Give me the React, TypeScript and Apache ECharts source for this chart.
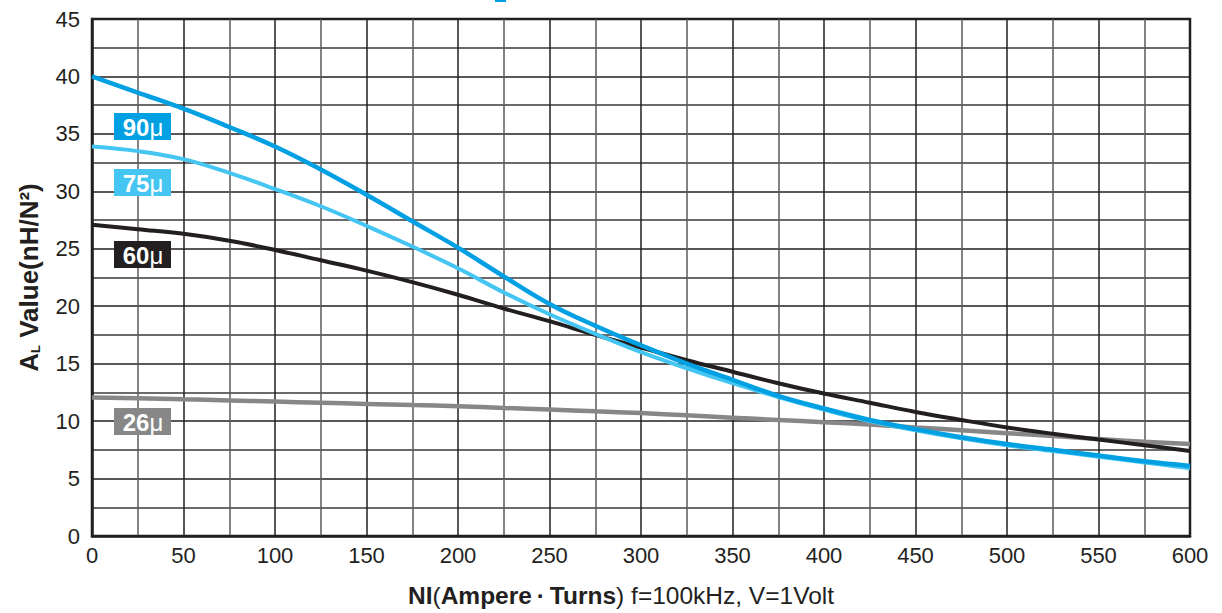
import React, { useEffect, useRef } from "react";
import * as echarts from "echarts";

const niValues = [0, 25, 50, 75, 100, 125, 150, 175, 200, 225, 250, 275, 300, 325, 350, 375, 400, 425, 450, 475, 500, 525, 550, 575, 600];
const al90 = [40, 38.6, 37.2, 35.6, 33.9, 31.9, 29.7, 27.4, 25.1, 22.6, 20.2, 18.3, 16.6, 15.0, 13.6, 12.2, 11.1, 10.1, 9.3, 8.6, 8.0, 7.5, 7.0, 6.5, 6.1];
const al75 = [33.9, 33.5, 32.8, 31.6, 30.2, 28.7, 27.0, 25.2, 23.3, 21.2, 19.3, 17.6, 16.0, 14.6, 13.3, 12.1, 11.0, 10.0, 9.2, 8.5, 7.9, 7.4, 6.9, 6.4, 5.9];
const al60 = [27.1, 26.7, 26.3, 25.7, 24.9, 24.0, 23.1, 22.1, 21.0, 19.8, 18.7, 17.5, 16.4, 15.3, 14.3, 13.3, 12.4, 11.6, 10.8, 10.1, 9.45, 8.9, 8.4, 7.9, 7.4];
const al26 = [12.05, 12.0, 11.9, 11.8, 11.7, 11.6, 11.5, 11.4, 11.3, 11.15, 11.0, 10.85, 10.7, 10.5, 10.3, 10.1, 9.9, 9.7, 9.45, 9.2, 8.95, 8.7, 8.45, 8.2, 8.0];
const seriesNames = ["26μ", "60μ", "75μ", "90μ"];

const FONT = "'Liberation Sans', Arial, Helvetica, sans-serif";

export default function App() {
  const ref = useRef<HTMLDivElement>(null);
  useEffect(() => {
    if (!ref.current) return;
    const chart = echarts.init(ref.current, undefined, { renderer: "svg" });
    const pair = (ys: number[]) => niValues.map((x, i) => [x, ys[i]]);
    const lineSeries = (name: string, ys: number[], color: string, width: number) => ({
      name,
      type: "line",
      data: pair(ys),
      smooth: 0.4,
      showSymbol: false,
      lineStyle: { color, width },
      z: 3,
    });
    const label = (top: number, bg: string, digits: string) => ({
      type: "group",
      left: 114,
      top,
      z: 100,
      children: [
        { type: "rect", z: 100, shape: { x: 0, y: 0, width: 57, height: 27 }, style: { fill: bg } },
        {
          type: "text",
          z: 101,
          x: 29,
          y: 14,
          style: {
            text: `{d|${digits}}{m|μ}`,
            align: "center",
            verticalAlign: "middle",
            rich: {
              d: { fontSize: 24, fontWeight: "bold", fill: "#fff", fontFamily: FONT },
              m: { fontSize: 24, fill: "#fff", fontFamily: FONT },
            },
          },
        },
      ],
    });
    chart.setOption({
      animation: false,
      backgroundColor: "#fff",
      grid: {
        left: 92,
        right: 32,
        top: 19,
        bottom: 76,
        show: true,
        borderColor: "#231f20",
        borderWidth: 2.5,
        containLabel: false,
      },
      xAxis: {
        type: "value",
        min: 0,
        max: 600,
        interval: 50,
        name: "{b|NI}{n|(}{b|Ampere\u2009·\u2009Turns}{n|) f=100kHz, V=1Volt}",
        nameLocation: "middle",
        nameGap: 47,
        nameTextStyle: {
          padding: [0, 40, 0, 0],
          rich: {
            b: { fontSize: 24.5, fontWeight: "bold", color: "#231f20", fontFamily: FONT },
            n: { fontSize: 24.5, color: "#231f20", fontFamily: FONT },
          },
        },
        axisLine: { show: true, lineStyle: { color: "#231f20", width: 2.5 } },
        axisTick: { show: false },
        axisLabel: { fontSize: 22, color: "#231f20", fontFamily: FONT, margin: 8 },
        splitLine: { show: true, lineStyle: { color: "#231f20", width: 1.5 } },
        minorTick: { show: false, splitNumber: 2 },
        minorSplitLine: { show: true, lineStyle: { color: "#5a5a5a", width: 1.5 } },
      },
      yAxis: {
        type: "value",
        min: 0,
        max: 45,
        interval: 5,
        name: "{b|A}{s|L}{b| Value(nH/N²)}",
        nameLocation: "middle",
        nameGap: 50,
        nameRotate: 90,
        nameTextStyle: {
          rich: {
            b: { fontSize: 26, fontWeight: "bold", color: "#231f20", fontFamily: FONT },
            s: { fontSize: 13, fontWeight: "bold", color: "#231f20", fontFamily: FONT, verticalAlign: "bottom", padding: [12, 0, 0, 0] },
          },
        },
        axisLine: { show: true, lineStyle: { color: "#231f20", width: 2.5 } },
        axisTick: { show: false },
        axisLabel: { fontSize: 22, color: "#231f20", fontFamily: FONT, margin: 12 },
        splitLine: { show: true, lineStyle: { color: "#231f20", width: 1.5 } },
        minorTick: { show: false, splitNumber: 2 },
        minorSplitLine: { show: true, lineStyle: { color: "#3a3a3a", width: 1.5 } },
      },
      series: [
        lineSeries(seriesNames[0], al26, "#878787", 4.5),
        lineSeries(seriesNames[1], al60, "#231f20", 4),
        lineSeries(seriesNames[2], al75, "#45c5f1", 4),
        lineSeries(seriesNames[3], al90, "#00a0e3", 4.5),
      ],
      graphic: [
        { type: "rect", left: 495, top: 0, z: 100, shape: { width: 11, height: 2 }, style: { fill: "#00a0e3" } },
        label(113, "#00a0e3", "90"),
        label(169, "#45c5f1", "75"),
        label(241, "#231f20", "60"),
        label(408, "#878787", "26"),
      ],
    });
    return () => chart.dispose();
  }, []);
  return (
    <div
      ref={ref}
      style={{ position: "fixed", left: 0, top: 0, width: 1222, height: 613, background: "#fff" }}
    />
  );
}
